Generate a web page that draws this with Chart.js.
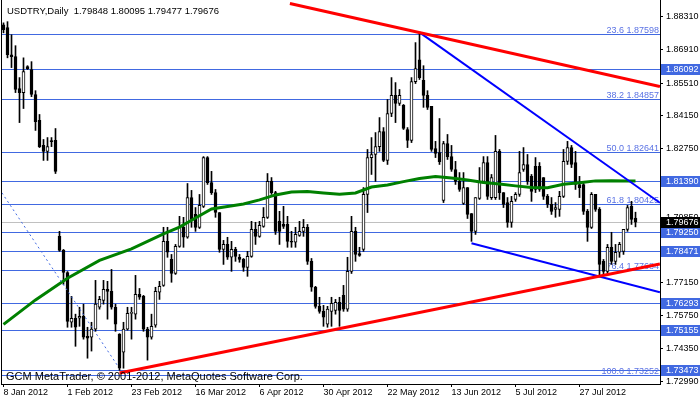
<!DOCTYPE html>
<html>
<head>
<meta charset="utf-8">
<script src="https://cdn.jsdelivr.net/npm/chart.js@4.4.1/dist/chart.umd.min.js"></script>
<style>
  html, body { margin: 0; padding: 0; background: #fff; }
</style>
</head>
<body>
<canvas id="chart" width="700" height="402"></canvas>
<script>
// USDTRY daily bars (bar index 0 = 8 Jan 2012)
const symbol = 'USDTRY';
const period = 'Daily';

const opens = [
  1.8797, 1.8785, 1.8671, 1.8663, 1.8529, 1.8512, 1.8621, 1.8609, 1.8504, 1.8395,
  1.8290, 1.8265, 1.8307, 1.8311, 1.7908, 1.7849, 1.7756, 1.7547, 1.7564, 1.7564,
  1.7572, 1.7488, 1.7484, 1.7518, 1.7610, 1.7639, 1.7685, 1.7677, 1.7610, 1.7497,
  1.7421, 1.7518, 1.7584, 1.7581, 1.7664, 1.7656, 1.7518, 1.7484, 1.7535, 1.7673,
  1.7702, 1.7887, 1.7811, 1.7752, 1.7866, 1.7946, 1.7904, 1.8071, 1.8000, 1.7946,
  1.8034, 1.8239, 1.8134, 1.8092, 1.8008, 1.7853, 1.7874, 1.7820, 1.7853, 1.7820,
  1.7811, 1.7777, 1.7824, 1.7937, 1.7908, 1.7950, 1.7988, 1.8139, 1.8092, 1.7971,
  1.7958, 1.7958, 1.7887, 1.7883, 1.7912, 1.7929, 1.7946, 1.7803, 1.7694, 1.7614,
  1.7593, 1.7539, 1.7593, 1.7597, 1.7631, 1.7660, 1.7602, 1.7761, 1.7929, 1.7836,
  1.7853, 1.8084, 1.8239, 1.8252, 1.8285, 1.8348, 1.8227, 1.8424, 1.8500, 1.8466,
  1.8458, 1.8357, 1.8311, 1.8558, 1.8650, 1.8563, 1.8500, 1.8454, 1.8277, 1.8260,
  1.8059, 1.8298, 1.8243, 1.8189, 1.8139, 1.8046, 1.8113, 1.8004, 1.7929, 1.8067,
  1.8139, 1.8218, 1.8071, 1.8071, 1.8265, 1.8092, 1.8050, 1.7967, 1.8063, 1.8084,
  1.8189, 1.8210, 1.8160, 1.8202, 1.8202, 1.8155, 1.8076, 1.8042, 1.8021, 1.8021,
  1.8076, 1.8223, 1.8281, 1.8218, 1.8126, 1.8126, 1.8013, 1.7946, 1.8084, 1.8021,
  1.7803, 1.7761, 1.7862, 1.7803, 1.7841, 1.7845, 1.7937, 1.8034, 1.79848
];
const highs = [
  1.8805, 1.8810, 1.8755, 1.8709, 1.8575, 1.8658, 1.8625, 1.8642, 1.8520, 1.8420,
  1.8315, 1.8323, 1.8323, 1.8361, 1.7929, 1.7853, 1.7760, 1.7656, 1.7581, 1.7610,
  1.7623, 1.7526, 1.7547, 1.7723, 1.7656, 1.7723, 1.7719, 1.7769, 1.7623, 1.7499,
  1.7547, 1.7610, 1.7610, 1.7744, 1.7689, 1.7660, 1.7526, 1.7581, 1.7694, 1.7719,
  1.7946, 1.7946, 1.7832, 1.7874, 1.7992, 1.7988, 1.8130, 1.8101, 1.8029, 1.8084,
  1.8243, 1.8243, 1.8181, 1.8105, 1.8008, 1.7891, 1.7904, 1.7887, 1.7862, 1.7832,
  1.7815, 1.7845, 1.7971, 1.7967, 1.7971, 1.8029, 1.8172, 1.8155, 1.8097, 1.8013,
  1.8034, 1.7992, 1.7929, 1.7946, 1.7971, 1.7979, 1.7958, 1.7815, 1.7698, 1.7652,
  1.7618, 1.7614, 1.7652, 1.7643, 1.7652, 1.7702, 1.7820, 1.7992, 1.7946, 1.7862,
  1.8113, 1.8273, 1.8323, 1.8344, 1.8407, 1.8365, 1.8483, 1.8575, 1.8554, 1.8525,
  1.8462, 1.8365, 1.8575, 1.8722, 1.8763, 1.8625, 1.8520, 1.8454, 1.8307, 1.8403,
  1.8307, 1.8336, 1.8290, 1.8223, 1.8176, 1.8176, 1.8113, 1.8004, 1.8071, 1.8197,
  1.8243, 1.8243, 1.8168, 1.8332, 1.8273, 1.8092, 1.8071, 1.8076, 1.8092, 1.8265,
  1.8281, 1.8252, 1.8168, 1.8239, 1.8218, 1.8155, 1.8084, 1.8071, 1.8050, 1.8097,
  1.8273, 1.8307, 1.8290, 1.8265, 1.8160, 1.8139, 1.8021, 1.8092, 1.8084, 1.8029,
  1.7811, 1.7874, 1.7925, 1.7874, 1.7883, 1.7937, 1.8038, 1.8055, 1.80095
];
const lows = [
  1.8763, 1.8658, 1.8617, 1.8512, 1.8386, 1.8445, 1.8609, 1.8495, 1.8353, 1.8281,
  1.8227, 1.8227, 1.8285, 1.8172, 1.7845, 1.7706, 1.7526, 1.7526, 1.7446, 1.7530,
  1.7476, 1.7396, 1.7426, 1.7509, 1.7602, 1.7623, 1.7560, 1.7602, 1.7509, 1.7345,
  1.7354, 1.7514, 1.7476, 1.7560, 1.7643, 1.7509, 1.7388, 1.7476, 1.7526, 1.7643,
  1.7698, 1.7820, 1.7715, 1.7748, 1.7862, 1.7862, 1.7900, 1.7946, 1.7929, 1.7941,
  1.8029, 1.8126, 1.8084, 1.7988, 1.7841, 1.7790, 1.7811, 1.7761, 1.7803, 1.7799,
  1.7761, 1.7740, 1.7820, 1.7874, 1.7904, 1.7946, 1.7983, 1.8084, 1.7916, 1.7874,
  1.7941, 1.7862, 1.7862, 1.7862, 1.7908, 1.7908, 1.7790, 1.7677, 1.7606, 1.7585,
  1.7530, 1.7526, 1.7530, 1.7581, 1.7530, 1.7593, 1.7593, 1.7752, 1.7803, 1.7824,
  1.7845, 1.8008, 1.8168, 1.8139, 1.8265, 1.8222, 1.8210, 1.8411, 1.8386, 1.8458,
  1.8357, 1.8281, 1.8302, 1.8550, 1.8567, 1.8450, 1.8441, 1.8265, 1.8239, 1.8210,
  1.8050, 1.8231, 1.8181, 1.8126, 1.8097, 1.8042, 1.7983, 1.7887, 1.7916, 1.8063,
  1.8130, 1.8063, 1.8063, 1.8063, 1.8063, 1.8029, 1.7946, 1.7946, 1.8055, 1.8076,
  1.8181, 1.8126, 1.8055, 1.8092, 1.8097, 1.8063, 1.8029, 1.8000, 1.7988, 1.7992,
  1.8071, 1.8210, 1.8197, 1.8105, 1.8071, 1.8000, 1.7887, 1.7941, 1.8013, 1.7740,
  1.7748, 1.7748, 1.7790, 1.7790, 1.7820, 1.7832, 1.7929, 1.7958, 1.79477
];
const closes = [
  1.8776, 1.8671, 1.8663, 1.8525, 1.8512, 1.8600, 1.8613, 1.8504, 1.8390, 1.8285,
  1.8265, 1.8285, 1.8306, 1.8181, 1.7849, 1.7756, 1.7551, 1.7564, 1.7526, 1.7572,
  1.7484, 1.7480, 1.7518, 1.7623, 1.7643, 1.7685, 1.7677, 1.7610, 1.7539, 1.7354,
  1.7518, 1.7585, 1.7586, 1.7664, 1.7652, 1.7518, 1.7484, 1.7530, 1.7677, 1.7698,
  1.7887, 1.7841, 1.7752, 1.7866, 1.7946, 1.7904, 1.8071, 1.7979, 1.7946, 1.8038,
  1.8239, 1.8134, 1.8092, 1.8008, 1.7853, 1.7874, 1.7820, 1.7853, 1.7824, 1.7811,
  1.7777, 1.7824, 1.7937, 1.7908, 1.7954, 1.7988, 1.8139, 1.8092, 1.7929, 1.7929,
  1.7950, 1.7887, 1.7883, 1.7916, 1.7929, 1.7946, 1.7803, 1.7694, 1.7614, 1.7593,
  1.7568, 1.7602, 1.7627, 1.7631, 1.7597, 1.7602, 1.7761, 1.7929, 1.7832, 1.7828,
  1.8084, 1.8239, 1.8252, 1.8285, 1.8348, 1.8227, 1.8424, 1.8500, 1.8466, 1.8500,
  1.8361, 1.8311, 1.8558, 1.8613, 1.8575, 1.8500, 1.8450, 1.8273, 1.8256, 1.8222,
  1.8298, 1.8243, 1.8189, 1.8139, 1.8105, 1.8113, 1.8000, 1.7929, 1.8071, 1.8139,
  1.8218, 1.8076, 1.8155, 1.8265, 1.8092, 1.8042, 1.7967, 1.8055, 1.8084, 1.8176,
  1.8210, 1.8139, 1.8097, 1.8105, 1.8105, 1.8076, 1.8042, 1.8013, 1.8029, 1.8076,
  1.8223, 1.8281, 1.8210, 1.8126, 1.8113, 1.8013, 1.7946, 1.8084, 1.8021, 1.7790,
  1.7761, 1.7862, 1.7803, 1.7841, 1.7874, 1.7937, 1.8029, 1.7979, 1.79676
];

// moving average, read at every 4th bar or so
const maBars = [0, 8, 16, 24, 32, 40, 44, 48, 52, 56, 60, 64, 68, 72, 76, 80, 84, 88,
  92, 96, 100, 104, 108, 112, 116, 120, 124, 128, 132, 136, 140, 144, 148, 152, 156, 158];
const maValues = [1.7538, 1.7641, 1.7732, 1.7807, 1.7855, 1.7918, 1.7947, 1.7985, 1.8023,
  1.8033, 1.8044, 1.8061, 1.8082, 1.8094, 1.8096, 1.8090, 1.8085, 1.8090, 1.8115, 1.8124,
  1.8138, 1.8151, 1.8159, 1.8153, 1.8145, 1.8134, 1.8128, 1.8120, 1.8113, 1.8112, 1.8127,
  1.8133, 1.8141, 1.8142, 1.8141, 1.8141];

// axis labels
const dateBars = [0, 16, 32, 48, 64, 80, 96, 112, 128, 144];
const dateLabels = ['8 Jan 2012', '1 Feb 2012', '23 Feb 2012', '16 Mar 2012', '6 Apr 2012',
  '30 Apr 2012', '22 May 2012', '13 Jun 2012', '5 Jul 2012', '27 Jul 2012'];
const priceTicks = [1.88310, 1.86910, 1.85510, 1.84150, 1.82750, 1.81350, 1.79850,
  1.78490, 1.77150, 1.75750, 1.74350, 1.72990];

// horizontal lines and fibo levels
const hLines = [1.86092, 1.81390, 1.79250, 1.78471, 1.76293, 1.75155, 1.73473];
const fibLevels = ['23.6', '38.2', '50.0', '61.8', '76.4', '100.0'];
const fibPrices = [1.87598, 1.84857, 1.82641, 1.80425, 1.77684, 1.73252];
const bidPrice = 1.79676;

// trend lines as [bar, price] end points
const redTop = [[71.6, 1.8886], [164.1, 1.8537]];
const redBottom = [[29, 1.7334], [164.1, 1.7792]];
const blueTop = [[104, 1.8765], [164.1, 1.8049]];
const blueBottom = [[117, 1.7879], [164.1, 1.7673]];
const blueDotted = [[-0.4, 1.8091], [28.75, 1.7359]];

const FONT = '"Liberation Sans", Arial, sans-serif';
const LINE_BLUE = '#4169e1';

const last = opens.length - 1;
const title = symbol + ',' + period + '  ' + [opens[last], highs[last], lows[last], closes[last]]
  .map(v => v.toFixed(5)).join(' ');
const copyright = 'GCM MetaTrader, \u00a9 2001-2012, MetaQuotes Software Corp.';

const toPts = seg => seg.map(p => ({ x: p[0], y: p[1] }));
const row = (scale, v) => Math.round(scale.getPixelForValue(v));

const overlay = {
  id: 'overlay',
  beforeDatasetsDraw(chart) {
    const { ctx, chartArea: a, scales: { y } } = chart;
    ctx.save();
    ctx.lineWidth = 1;
    const hline = p => {
      const yy = row(y, p) + 0.5;
      ctx.beginPath(); ctx.moveTo(a.left, yy); ctx.lineTo(a.right, yy); ctx.stroke();
    };
    ctx.strokeStyle = '#c0c0c0';
    hline(bidPrice);
    ctx.strokeStyle = LINE_BLUE;
    hLines.forEach(hline);
    fibPrices.forEach(hline);
    // fibo texts sit just above their lines, behind the candles
    ctx.fillStyle = '#5a72e4';
    ctx.font = '9px ' + FONT;
    ctx.textAlign = 'right';
    ctx.textBaseline = 'alphabetic';
    fibPrices.forEach((p, k) => {
      ctx.fillText(fibLevels[k] + ' ' + p.toFixed(5), a.right - 1, row(y, p) - 1);
    });
    ctx.restore();
  },
  afterDatasetsDraw(chart) {
    const { ctx, chartArea: a } = chart;
    ctx.save();
    ctx.fillStyle = '#000';
    ctx.textAlign = 'left';
    ctx.textBaseline = 'alphabetic';
    ctx.font = '11px ' + FONT;
    ctx.fillText(copyright, a.left + 4, a.bottom - 4);
    ctx.font = '9.5px ' + FONT;
    ctx.fillText(title, a.left + 5, 14);
    ctx.restore();
  },
  afterDraw(chart) {
    const { ctx, chartArea: a, scales: { y } } = chart;
    ctx.save();
    // left frame line
    ctx.strokeStyle = '#000';
    ctx.lineWidth = 1;
    ctx.beginPath(); ctx.moveTo(a.left - 0.5, 0); ctx.lineTo(a.left - 0.5, a.bottom + 1); ctx.stroke();
    // price boxes on the right scale
    ctx.font = '9px ' + FONT;
    ctx.textAlign = 'left';
    ctx.textBaseline = 'middle';
    const box = (p, bg) => {
      const r = row(y, p);
      ctx.fillStyle = bg;
      ctx.fillRect(a.right + 1, r - 5, 40, 11);
      ctx.fillStyle = '#fff';
      ctx.fillText(p.toFixed(5), a.right + 6, r + 0.5);
    };
    hLines.forEach(p => box(p, LINE_BLUE));
    box(bidPrice, '#000');
    ctx.restore();
  }
};

Chart.defaults.font.family = FONT;
Chart.defaults.font.size = 9;
Chart.defaults.color = '#000';

new Chart(document.getElementById('chart'), {
  type: 'bar',
  data: {
    datasets: [
      {
        label: 'wicks',
        data: highs.map((h, i) => ({ x: i, y: [lows[i], h] })),
        backgroundColor: '#000',
        borderWidth: 0,
        barThickness: 1,
        grouped: false,
        order: 6
      },
      {
        label: 'bodies',
        data: opens.map((o, i) => ({ x: i, y: [o, closes[i]] })),
        backgroundColor: opens.map((o, i) => closes[i] >= o ? '#fff' : '#000'),
        borderColor: '#000',
        borderWidth: 1,
        borderSkipped: false,
        barThickness: 3,
        minBarLength: 1,
        grouped: false,
        order: 5
      },
      {
        type: 'line', label: 'MA',
        data: maBars.map((b, k) => ({ x: b, y: maValues[k] })),
        borderColor: '#008000', borderWidth: 3, pointRadius: 0, order: 4
      },
      { type: 'line', data: toPts(blueDotted), borderColor: LINE_BLUE, borderWidth: 1,
        borderDash: [2, 3], pointRadius: 0, order: 3 },
      { type: 'line', data: toPts(blueTop), borderColor: '#0000ff', borderWidth: 2, pointRadius: 0, order: 2 },
      { type: 'line', data: toPts(blueBottom), borderColor: '#0000ff', borderWidth: 2, pointRadius: 0, order: 2 },
      { type: 'line', data: toPts(redTop), borderColor: '#ff0000', borderWidth: 3, pointRadius: 0, order: 1 },
      { type: 'line', data: toPts(redBottom), borderColor: '#ff0000', borderWidth: 3, pointRadius: 0, order: 1 }
    ]
  },
  options: {
    responsive: false,
    animation: false,
    devicePixelRatio: 1,
    layout: { padding: { left: 2, top: 0, right: 0, bottom: 0 } },
    plugins: { legend: { display: false }, tooltip: { enabled: false } },
    scales: {
      x: {
        type: 'linear',
        min: -0.375,
        max: 164.125,
        offset: false,
        grid: { offset: false, drawOnChartArea: false, tickLength: 3, color: '#000' },
        border: { display: true, color: '#000' },
        ticks: {
          align: 'start', padding: 0, autoSkip: false, maxRotation: 0,
          callback: v => dateLabels[dateBars.indexOf(v)]
        },
        afterBuildTicks: s => { s.ticks = dateBars.map(v => ({ value: v })); },
        afterFit: s => { s.height = 18; s.paddingLeft = 0; s.paddingRight = 0; }
      },
      y: {
        type: 'linear',
        position: 'right',
        min: 1.72876,
        max: 1.89010,
        grid: { drawOnChartArea: false, tickLength: 3, color: '#000' },
        border: { display: true, color: '#000' },
        ticks: { padding: 3, autoSkip: false, callback: v => v.toFixed(5) },
        afterBuildTicks: s => { s.ticks = priceTicks.map(v => ({ value: v })); },
        afterFit: s => { s.width = 40; s.paddingTop = 0; s.paddingBottom = 0; }
      }
    }
  },
  plugins: [overlay]
});
</script>
</body>
</html>
